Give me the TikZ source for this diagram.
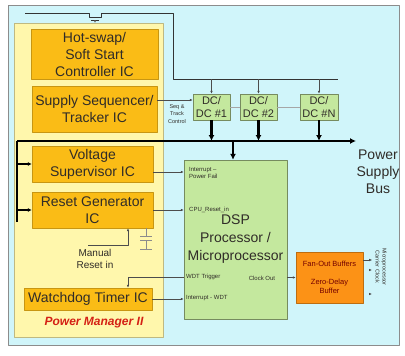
\documentclass[tikz,border=0pt]{standalone}
\usepackage{fontspec}
\setmainfont{Liberation Sans}
\usetikzlibrary{arrows.meta}

\definecolor{bgcyan}{RGB}{208,245,250}
\definecolor{pmyellow}{RGB}{255,247,172}
\definecolor{icorange}{RGB}{250,188,22}
\definecolor{dcgreen}{RGB}{196,232,158}
\definecolor{fanorange}{RGB}{252,146,22}
\definecolor{pmred}{RGB}{212,32,20}
\definecolor{txtdark}{RGB}{48,44,40}

\tikzset{
  icbox/.style={draw=icorange!80!black, fill=icorange, inner sep=0pt, align=center,
    text=txtdark, font=\fontsize{14}{17}\selectfont},
  dcbox/.style={draw=dcgreen!60!black, fill=dcgreen, inner sep=0pt, align=center,
    text=txtdark, minimum width=37, minimum height=26, font=\fontsize{11}{13}\selectfont},
  sigtxt/.style={inner sep=0pt, text=txtdark, align=left, font=\fontsize{6}{7.5}\selectfont},
  thinarrow/.style={draw=black!70, line width=0.6pt, -{Latex[length=3pt,width=2.6pt]}},
  busline/.style={draw=black, line width=2.2pt},
  busarrow/.style={busline, -{Latex[length=6pt,width=6pt]}}
}

\begin{document}
\begin{tikzpicture}[x=1pt, y=-1pt, line join=round]

  %% ════ 底板 ════
  \fill[white] (0,0) rectangle (405,356);
  \draw[fill=bgcyan, draw=black!45, line width=0.8pt] (8,5) rectangle (399,345);
  \draw[fill=pmyellow, draw=pmyellow!75!black, line width=0.6pt] (14,23) rectangle (163,337);

  %% ════ Power Manager 内部 IC ════
  \node[icbox, minimum width=127, minimum height=50] (hotswap) at (94.5,54) {Hot-swap/\\Soft Start\\Controller IC};
  \node[icbox, minimum width=125, minimum height=46] (seq) at (94.5,109) {Supply Sequencer/\\Tracker IC};
  \node[icbox, minimum width=121, minimum height=36] (vsup) at (92.5,164) {Voltage\\Supervisor IC};
  \node[icbox, minimum width=121, minimum height=36] (rstgen) at (92.5,210) {Reset Generator\\IC};
  \node[icbox, minimum width=128, minimum height=22] (wdog) at (88,299) {Watchdog Timer IC};
  \node[inner sep=0pt, text=pmred, font=\fontsize{12}{14}\selectfont\bfseries\itshape] (pmlabel) at (94,323) {Power Manager II};

  %% ════ DC/DC 与处理器 ════
  \node[dcbox] (dc1) at (211.5,107) {DC/\\DC \#1};
  \node[dcbox] (dc2) at (258.5,107) {DC/\\DC \#2};
  \node[dcbox, minimum width=38] (dcn) at (319,107) {DC/\\DC \#N};
  \draw[black!35, line width=0.5pt] (dc1.east) -- (dc2.west) (dc2.east) -- (dcn.west);

  \node[draw=dcgreen!60!black, fill=dcgreen, inner sep=0pt, minimum width=103, minimum height=159,
    align=center, text=txtdark, font=\fontsize{14}{18}\selectfont] (dsp) at (235.5,239.5) {DSP\\Processor /\\Microprocessor};
  \node[draw=fanorange!75!black, fill=fanorange, inner sep=0pt, minimum width=67, minimum height=51,
    align=center, text=red!45!black, font=\fontsize{7.5}{11}\selectfont] (fanout) at (329.5,277.5) {Fan-Out Buffers\\[7pt]Zero-Delay\\[-2pt]Buffer};

  %% ════ 文字标签 ════
  \node[sigtxt, anchor=west] (lpf) at (189,173) {Interrupt --\\Power Fail};
  \node[sigtxt, anchor=west] (lcpu) at (189,210) {CPU\_Reset\_in};
  \node[sigtxt, anchor=west] (lwdt) at (186,277) {WDT Trigger};
  \node[sigtxt, anchor=west] (liwdt) at (186,298) {Interrupt - WDT};
  \node[sigtxt] (lclk) at (262,278) {Clock Out};
  \node[sigtxt, align=center, font=\fontsize{5.5}{7.5}\selectfont] (lseq) at (177,114) {Seq \&\\Track\\Control};
  \node[inner sep=0pt, align=center, text=txtdark, font=\fontsize{10}{12}\selectfont] (lmr) at (95,259) {Manual\\Reset in};
  \node[inner sep=0pt, align=center, text=txtdark, font=\fontsize{14}{17}\selectfont] (lbus) at (378,172) {Power\\Supply\\Bus};
  \node[sigtxt, align=center, rotate=-90, font=\fontsize{5.5}{7}\selectfont] (lmclk) at (381,267) {Microprocessor\\Carrier Clock};

  %% ════ 输入母线与热插拔开关 ════
  \coordinate (vinW) at (25,13);
  \coordinate (vinE) at (173,79);
  \coordinate (dcbar) at (338,79);
  \draw[black!80, line width=0.8pt] (vinW) -- (89,13) -- (89,17) -- (101,17) -- (101,13) -| (vinE) -- (dcbar);
  \draw[black!80, line width=0.6pt] (91,20) -- (99,20);
  \draw[thinarrow] (95,20) -- (95,23);
  \foreach \dc in {dc1,dc2,dcn}
    \draw[thinarrow] (\dc.north |- dcbar) -- (\dc.north);

  %% ════ 电源总线 ════
  \coordinate (busW) at (17,141);
  \coordinate (busE) at (356,141);
  \coordinate (busS) at (17,222);
  \draw[busline] (busS) -- (busW);
  \draw[busarrow] (busW) -- (busE);
  \foreach \dc in {dc1,dc2,dcn}
    \draw[busarrow] (\dc.south) -- (\dc.south |- busW);
  \draw[busarrow] ([xshift=-2.5pt]dsp.north |- busW) -- ([xshift=-2.5pt]dsp.north);
  \draw[busline, -{Latex[length=4pt,width=4pt]}, line width=1.2pt] (busW |- vsup.west) -- (vsup.west);
  \draw[busline, -{Latex[length=4pt,width=4pt]}, line width=1.2pt] (busW |- rstgen.west) -- (rstgen.west);

  %% ════ 控制信号 ════
  \draw[thinarrow] ([yshift=9pt]seq.east) -- ([yshift=9pt]seq.east -| dc1.west);
  \draw[thinarrow] ([yshift=-8pt]vsup.east) -- ([yshift=-8pt]vsup.east -| dsp.west);
  \draw[thinarrow] (rstgen.east) -- (rstgen.east -| dsp.west);
  \draw[thinarrow] ([yshift=-37.5pt]dsp.west) -| ([xshift=40pt]wdog.north);
  \draw[thinarrow] (wdog.east) -- (wdog.east -| dsp.west);
  \draw[thinarrow] (dsp.east |- fanout.west) -- (fanout.west);

  %% 手动复位与电容
  \coordinate (mrin) at (88,245);
  \draw[thinarrow] (mrin) -| ([xshift=35.5pt]rstgen.south);
  \draw[black!45, line width=0.7pt] ([xshift=53.5pt]rstgen.south) -- (146,236)
    (140,236) -- (152,236) (140,240) -- (152,240) (146,240) -- (146,249) (140,249) -- (152,249);

  %% 时钟输出
  \draw[thinarrow] ([yshift=17.5pt]fanout.east) -- ++(9,0);
  \draw[thinarrow] (369,270) -- (372,270);
  \draw[thinarrow] (369,294) -- (372,294);

  \pgfresetboundingbox
  \path[use as bounding box] (0,0) rectangle (405,356);
\end{tikzpicture}
\end{document}
